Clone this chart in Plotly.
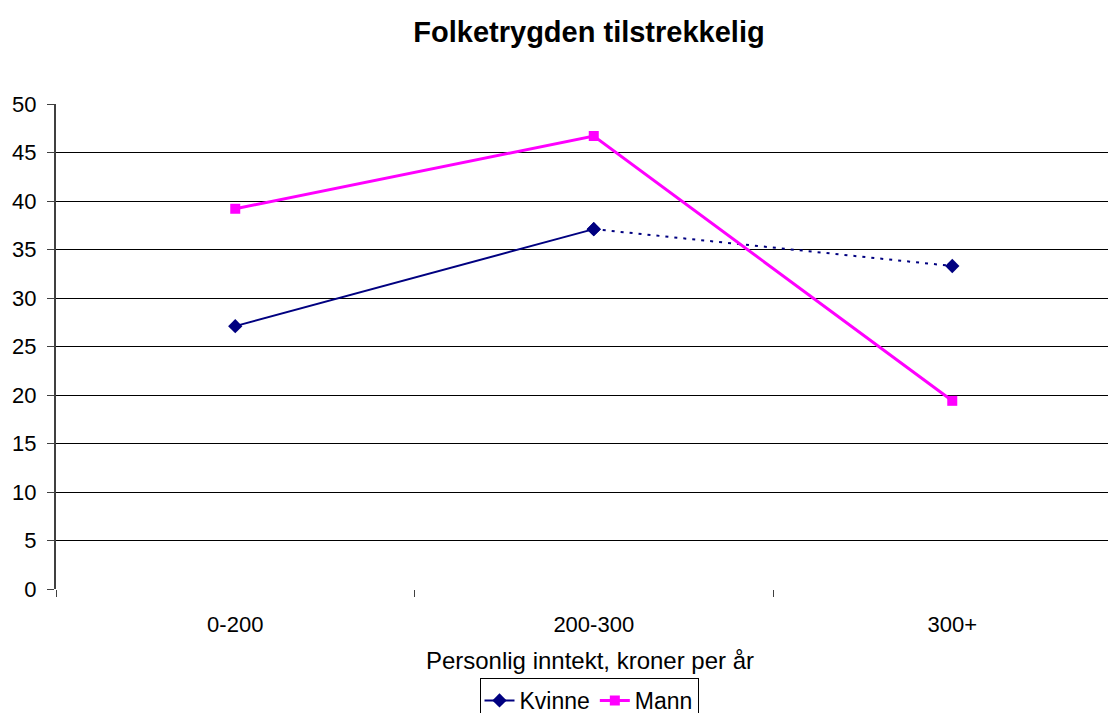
import plotly.graph_objects as go

categories = ["0-200", "200-300", "300+"]
kvinne = [27.1, 37.1, 33.3]
mann = [39.2, 46.7, 19.4]
y_ticks = [0, 5, 10, 15, 20, 25, 30, 35, 40, 45, 50]

xpos = list(range(len(categories)))
font = "Liberation Sans, Arial, sans-serif"
navy = "#000080"
mag = "#FF00FF"

# page body has an 8px default margin; layout below compensates for it
fig = go.Figure()
fig.add_trace(go.Scatter(
    x=xpos[:2], y=kvinne[:2], mode="lines+markers", name="Kvinne",
    line=dict(color=navy, width=2), marker=dict(symbol="diamond", size=11, color=navy),
    showlegend=True, legendgroup="k"))
fig.add_trace(go.Scatter(
    x=xpos[1:], y=kvinne[1:], mode="lines+markers", name="Kvinne",
    line=dict(color=navy, width=2, dash="3px,6px"), marker=dict(symbol="diamond", size=11, color=navy),
    showlegend=False, legendgroup="k"))
fig.add_trace(go.Scatter(
    x=xpos, y=mann, mode="lines+markers", name="Mann",
    line=dict(color=mag, width=3), marker=dict(symbol="square", size=10, color=mag)))

fig.update_layout(
    width=1116, height=713,
    paper_bgcolor="white", plot_bgcolor="white",
    margin=dict(l=48, r=0, t=96, b=132),
    font=dict(family=font, size=22, color="black"),
    title=dict(text="<b>Folketrygden tilstrekkelig</b>", x=581/1116, xref="container", xanchor="center",
               y=1 - 24/713, yanchor="middle", font=dict(size=29, family=font)),
    showlegend=True,
    legend=dict(orientation="h", xref="container", yref="container", x=581/1116, xanchor="center",
                y=1 - 670/713, yanchor="top", bordercolor="black", borderwidth=1,
                font=dict(size=23, family=font), itemwidth=30, tracegroupgap=0),
    xaxis=dict(range=[-0.5, 2.479], tickmode="array", tickvals=xpos, ticktext=categories,
               ticks="", showgrid=False, zeroline=False, showline=False,
               minor=dict(tickmode="array", tickvals=[-0.5, 0.5, 1.5, 2.5], ticks="outside",
                          ticklen=7, tickcolor="#404040", tickwidth=1),
               tickfont=dict(size=22), ticklabelstandoff=20,
               title=dict(text="Personlig inntekt, kroner per år", font=dict(size=24), standoff=16)),
    yaxis=dict(range=[0, 50], tickmode="array", tickvals=y_ticks, ticks="outside", ticklen=7,
               tickcolor="#404040", showgrid=True, gridcolor="black", gridwidth=1,
               zeroline=False, showline=True, linecolor="#404040", linewidth=2,
               tickfont=dict(size=22), ticklabelstandoff=6),
)
fig.write_html("out.html")
